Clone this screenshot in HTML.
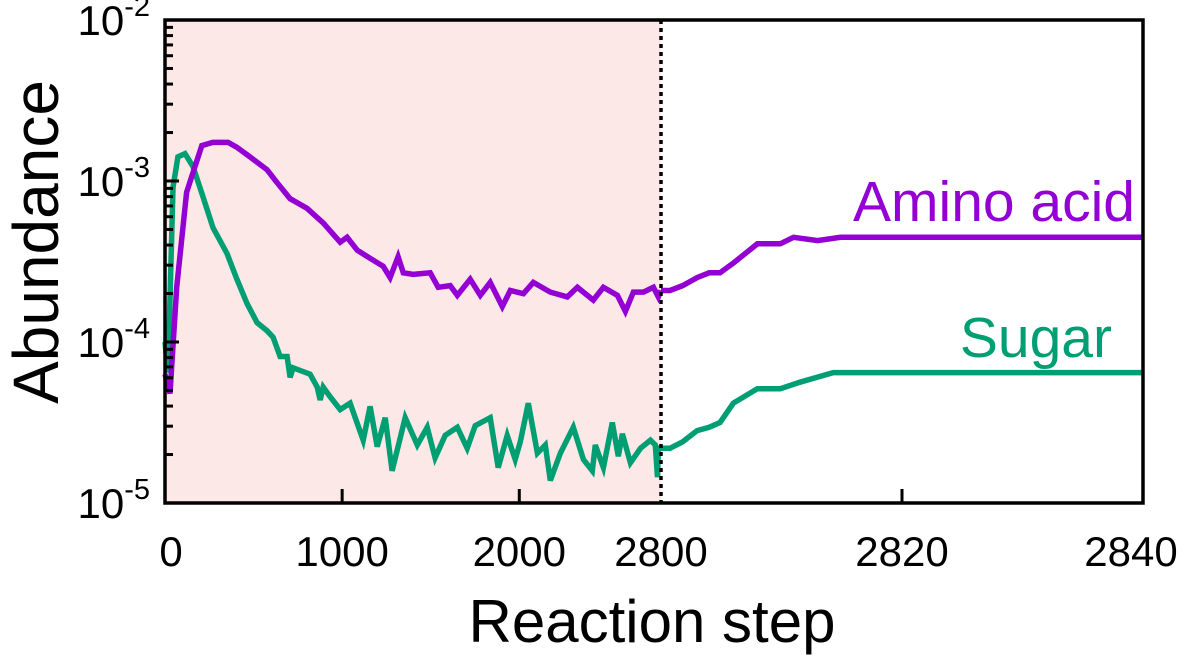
<!DOCTYPE html>
<html><head><meta charset="utf-8"><style>
body{margin:0;background:#fff;}
svg{display:block;font-family:"Liberation Sans",Arial,sans-serif;}
</style></head><body>
<svg id="chart" width="1200" height="658" viewBox="0 0 1200 658" xmlns="http://www.w3.org/2000/svg">
<rect x="165" y="20" width="496" height="483" fill="#fde8e8"/>
<g id="marks"></g>
<g id="axes"></g>
<text transform="translate(58,242) rotate(-90)" text-anchor="middle" font-size="64">Abundance</text>
<text x="652" y="642" text-anchor="middle" font-size="60">Reaction step</text>
<text x="1135" y="221" text-anchor="end" font-size="57" fill="#9400d3">Amino acid</text>
<text x="1112" y="357" text-anchor="end" font-size="57" fill="#009e73">Sugar</text>
</svg>
<script>
// log10(abundance)
const aminoSteps=[0,28,66,122,208,270,356,405,480,576,632,706,802,893,989,1028,1085,1158,1232,1271,1316,1345,1401,1497,1542,1610,1650,1723,1780,1836,1904,1949,2023,2079,2175,2271,2328,2418,2475,2554,2599,2644,2701,2757,2785,2800];
const aminoLog=[-4.2,-4.32,-3.66,-3.07,-2.78,-2.76,-2.76,-2.79,-2.85,-2.93,-3.01,-3.11,-3.17,-3.26,-3.38,-3.35,-3.43,-3.48,-3.53,-3.60,-3.47,-3.57,-3.58,-3.57,-3.66,-3.65,-3.71,-3.61,-3.71,-3.63,-3.78,-3.68,-3.70,-3.63,-3.69,-3.72,-3.66,-3.74,-3.66,-3.71,-3.81,-3.69,-3.69,-3.66,-3.72,-3.68];
const sugarSteps=[0,17,45,73,113,158,215,271,350,406,463,520,576,610,650,689,706,723,819,859,876,893,932,989,1045,1119,1158,1198,1243,1282,1356,1424,1480,1525,1582,1650,1706,1751,1836,1881,1932,1977,2006,2051,2102,2147,2175,2232,2305,2362,2412,2429,2475,2525,2559,2582,2627,2684,2740,2768,2780,2785,2800];
const sugarLog=[-4.0,-4.19,-3.04,-2.85,-2.83,-2.91,-3.10,-3.29,-3.45,-3.61,-3.76,-3.88,-3.93,-3.97,-4.09,-4.09,-4.22,-4.16,-4.20,-4.28,-4.36,-4.28,-4.34,-4.42,-4.38,-4.61,-4.40,-4.65,-4.47,-4.80,-4.47,-4.64,-4.53,-4.72,-4.58,-4.53,-4.66,-4.52,-4.47,-4.78,-4.58,-4.73,-4.62,-4.38,-4.69,-4.64,-4.86,-4.69,-4.53,-4.73,-4.80,-4.64,-4.78,-4.50,-4.71,-4.57,-4.75,-4.66,-4.61,-4.64,-4.84,-4.66,-4.66];
const aminoStepsR=[2800,2800.75,2801.8,2803,2804,2804.9,2806,2808,2809.9,2811,2813,2814.9,2840];
const aminoLogR=[-3.68,-3.68,-3.65,-3.60,-3.57,-3.57,-3.51,-3.39,-3.39,-3.35,-3.37,-3.35,-3.35];
const sugarStepsR=[2800,2800.75,2801.8,2803,2804,2804.9,2806,2808,2809.9,2811.5,2814.3,2815,2840];
const sugarLogR=[-4.66,-4.66,-4.62,-4.55,-4.53,-4.50,-4.38,-4.29,-4.29,-4.25,-4.19,-4.19,-4.19];
const xTicksL=[0,1000,2000];
const xTicksR=[2800,2820,2840];
const yDecades=[-2,-3,-4,-5];

const NS="http://www.w3.org/2000/svg";
const L=165,MID=661,R=1143,T=20,B=503;
function xL(s){return L+(s-0)/2800*(MID-L);}
function xR(s){return MID+(s-2800)/40*(R-MID);}
function y(lg){return T+(-2-lg)/3*(B-T);}
function mk(tag,attrs,parent){const e=document.createElementNS(NS,tag);for(const k in attrs)e.setAttribute(k,attrs[k]);parent.appendChild(e);return e;}
const marks=document.getElementById('marks'),axes=document.getElementById('axes');
function line(xs,ys,xf,color,name){
  const d=xs.map((s,i)=>(i?'L':'M')+xf(s).toFixed(1)+','+y(ys[i]).toFixed(1)).join('');
  const p=mk('path',{d:d,fill:'none',stroke:color,'stroke-width':5.5,'stroke-linejoin':'miter'},marks);
  
  
}
line(sugarSteps,sugarLog,xL,'#009e73','sugar-line-left');
line(aminoSteps,aminoLog,xL,'#9400d3','amino-acid-line-left');
line(sugarStepsR,sugarLogR,xR,'#009e73','sugar-line-right');
line(aminoStepsR,aminoLogR,xR,'#9400d3','amino-acid-line-right');

const fr=mk('rect',{x:L,y:T,width:R-L,height:B-T,fill:'none',stroke:'#000','stroke-width':3.5},axes);


const dv=mk('line',{x1:MID,y1:T,x2:MID,y2:B,stroke:'#000','stroke-width':3.5,'stroke-dasharray':'4,4'},axes);



yDecades.forEach(dcd=>{
  const yy=y(dcd);
  const t=mk('line',{x1:L,y1:yy,x2:L+14,y2:yy,stroke:'#000','stroke-width':3},axes);
  
  
  const tx=mk('text',{x:150,y:yy+15,'text-anchor':'end','font-size':42},axes);
  
  
  tx.textContent='10';
  const sp=mk('tspan',{dy:-19,'font-size':29},tx);sp.textContent=String(dcd);
  if(dcd>-5){for(let m=2;m<=9;m++){
    const ym=y(dcd-1+Math.log10(m));
    const mt=mk('line',{x1:L,y1:ym,x2:L+8,y2:ym,stroke:'#000','stroke-width':3},axes);
    
    
  }}
});
function xtick(xx,label,hasTick){
  if(hasTick){const t=mk('line',{x1:xx,y1:B,x2:xx,y2:B-14,stroke:'#000','stroke-width':3},axes);
  
  }
  const tx=mk('text',{x:xx,y:B+63,'text-anchor':'middle','font-size':42},axes);
  
  
  tx.textContent=label;
}
xTicksL.forEach(s=>xtick(xL(s)+(s===0?6:0),String(s),s>0));
xTicksR.forEach(s=>xtick(xR(s)-(s===2840?12:0)+(s===2800?0:0),String(s),s===2820));
</script>
</body></html>
